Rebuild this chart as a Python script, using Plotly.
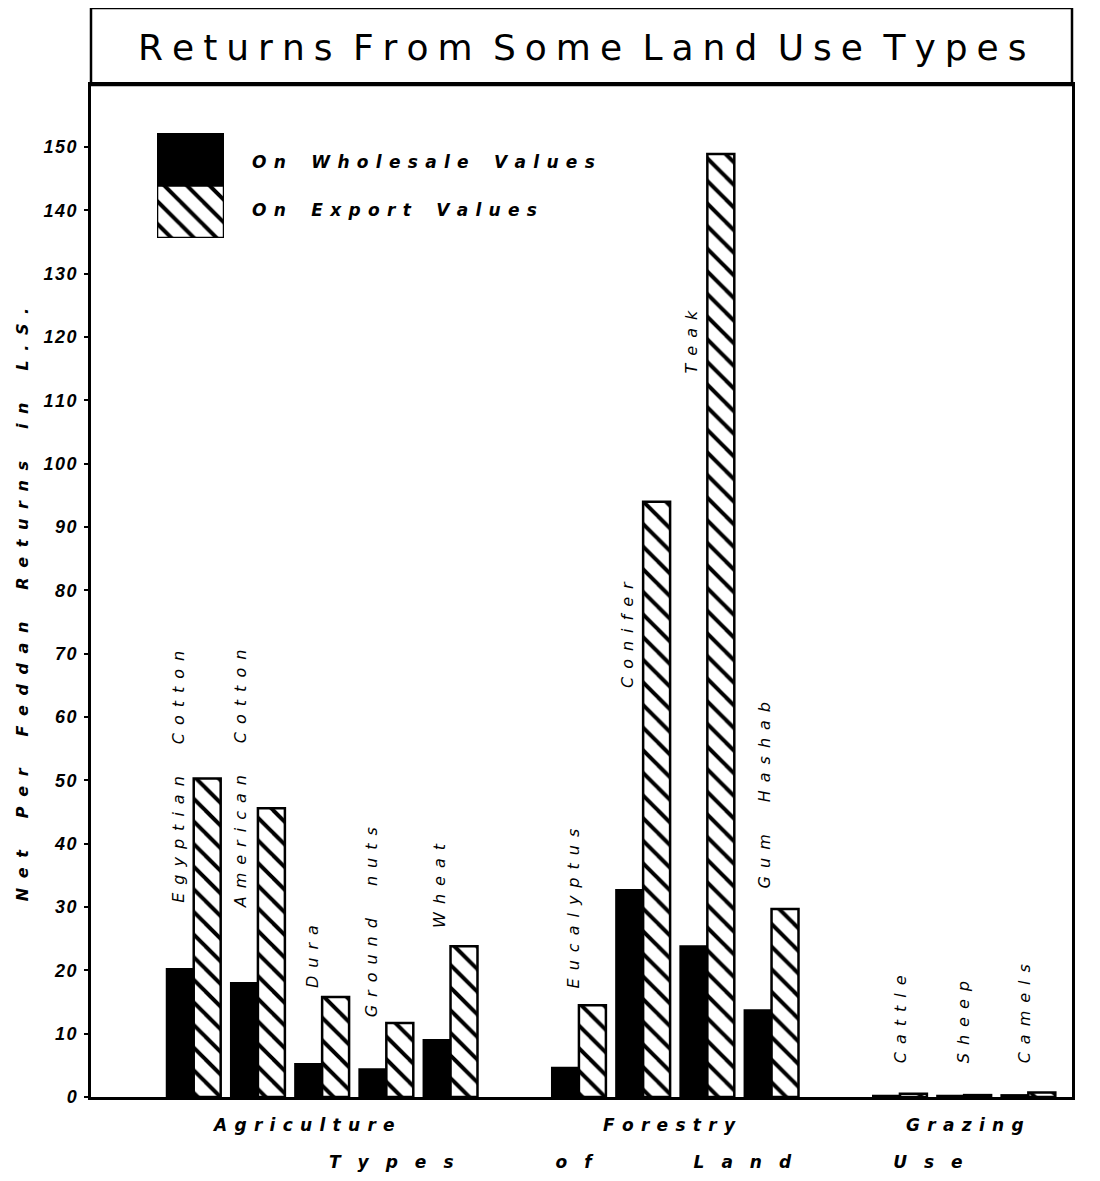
import plotly.graph_objects as go

# ---------------- data ----------------
categories = ["Egyptian Cotton", "American Cotton", "Dura", "Ground nuts", "Wheat",
              "Eucalyptus", "Conifer", "Teak", "Gum Hashab",
              "Cattle", "Sheep", "Camels"]
land_use = ["Agriculture"] * 5 + ["Forestry"] * 4 + ["Grazing"] * 3
land_use_types = ["Agriculture", "Forestry", "Grazing"]
wholesale_values = [20.2, 18.0, 5.2, 4.4, 9.0, 4.6, 32.7, 23.8, 13.7, 0.2, 0.2, 0.3]
export_values = [50.3, 45.6, 15.8, 11.7, 23.8, 14.5, 94.0, 148.9, 29.7, 0.5, 0.3, 0.7]
series_names = ["On Wholesale Values", "On Export Values"]
tick_values = [0, 10, 20, 30, 40, 50, 60, 70, 80, 90, 100, 110, 120, 130, 140, 150]
title_text = "Returns From Some Land Use Types"
y_title_text = "Net Per Feddan Returns in L.S."
x_title_text = "Types of Land Use"

# ---------------- label placement (style) ----------------
label_dx = [-0.25, -0.27, -0.15, -0.23, -0.17, -0.07, -0.24, -0.24, -0.11, 0.0, -0.02, -0.06]
label_base = [30.3, 29.5, 16.9, 12.2, 26.4, 16.9, 64.3, 114.0, 32.7, 5.0, 5.0, 5.0]
group_dx = [-0.29, -0.09, 0.02]

FONT = "DejaVu Sans"
TICKFONT = "Liberation Sans, Arial, DejaVu Sans"
HATCH = dict(shape="\\", fgcolor="black", bgcolor="white", size=16, solidity=0.25,
             fgopacity=1, fillmode="replace")


def spread(s, gap, wgap):
    return wgap.join(gap.join(w) for w in s.split(" "))


# x slot positions: consecutive bars, one empty slot between land-use groups
positions = []
for i, g in enumerate(land_use):
    positions.append(i + 1.5 + land_use_types.index(g))

fig = go.Figure()
fig.add_bar(x=positions, y=wholesale_values, name=series_names[0], showlegend=False,
            marker=dict(color="black", line=dict(color="black", width=2)))
fig.add_bar(x=positions, y=export_values, name=series_names[1], showlegend=False,
            marker=dict(color="white", pattern=HATCH, line=dict(color="black", width=2.5)))

# custom legend key (stacked boxes) on its own small axes
fig.add_bar(x=[0], y=[1], base=[1], width=[1], offset=-0.5, xaxis="x2", yaxis="y2",
            showlegend=False, hoverinfo="skip",
            marker=dict(color="black", line=dict(color="black", width=2)))
fig.add_bar(x=[0], y=[1], base=[0], width=[1], offset=-0.5, xaxis="x2", yaxis="y2",
            showlegend=False, hoverinfo="skip",
            marker=dict(color="white", pattern=HATCH, line=dict(color="black", width=2.5)))

ann = []
# rotated category labels
for c, p, dx, b in zip(categories, positions, label_dx, label_base):
    ann.append(dict(x=p + dx, y=b, xref="x", yref="y", text=spread(c, "\u2002", "\u2003\u2003"),
                    textangle=-90, showarrow=False, xanchor="center", yanchor="bottom",
                    font=dict(family=FONT, size=16, color="black", style="italic")))
# land use group labels
for g, dx in zip(land_use_types, group_dx):
    ps = [p for p, lu in zip(positions, land_use) if lu == g]
    ann.append(dict(x=sum(ps) / len(ps) + dx, y=-0.0277, xref="x", yref="paper",
                    text=spread(g, "\u2004\u200a", "\u2003"), showarrow=False,
                    xanchor="center", yanchor="middle",
                    font=dict(family=FONT, size=17, color="black", style="italic", weight="bold")))
# x title
ann.append(dict(x=0.566, y=-0.0642, xref="paper", yref="paper",
                text=spread(x_title_text, "\u2003", "\u2003" * 6), showarrow=False,
                xanchor="center", yanchor="middle",
                font=dict(family=FONT, size=17, color="black", style="italic", weight="bold")))
# y title
ann.append(dict(x=-0.0703, y=0.486, xref="paper", yref="paper",
                text=spread(y_title_text, "\u2002\u200a", "\u2003\u2003"), textangle=-90, showarrow=False,
                xanchor="center", yanchor="middle",
                font=dict(family=FONT, size=16, color="black", style="italic", weight="bold")))
# legend texts
for name, yy in zip(series_names, [0.924, 0.8765]):
    ann.append(dict(x=0.162, y=yy, xref="paper", yref="paper",
                    text=spread(name, "\u2004\u200a", "\u2003\u2002"), showarrow=False,
                    xanchor="left", yanchor="middle",
                    font=dict(family=FONT, size=17, color="black", style="italic", weight="bold")))
# title
ann.append(dict(x=0.5, y=1.0375, xref="paper", yref="paper",
                text=spread(title_text, "\u2005", " \u2005"), showarrow=False,
                xanchor="center", yanchor="middle",
                font=dict(family=FONT, size=36, color="black")))

fig.update_layout(
    width=1084, height=1165, autosize=False,
    margin=dict(l=83, r=20, t=77, b=76),
    paper_bgcolor="white", plot_bgcolor="white",
    barmode="group", bargap=0.16, bargroupgap=0,
    showlegend=False,
    annotations=ann,
    shapes=[dict(type="rect", xref="paper", yref="paper", x0=0, x1=1, y0=1, y1=1.0761,
                 line=dict(color="black", width=2.5))],
    xaxis=dict(range=[-0.1, 15.18], showticklabels=False, ticks="", showgrid=False,
               zeroline=False, showline=True, mirror=True, linecolor="black", linewidth=2.5),
    yaxis=dict(range=[0, 159.8], tickvals=tick_values,
               ticktext=[spread(str(v), "\u200a", "") for v in tick_values],
               ticks="outside", ticklen=4, tickwidth=2, tickcolor="black",
               ticklabelstandoff=4, showgrid=False, zeroline=False,
               showline=True, mirror=True, linecolor="black", linewidth=2.5,
               tickfont=dict(family=TICKFONT, size=18, color="black", style="italic", weight="bold")),
    xaxis2=dict(domain=[0.0673, 0.1356], range=[-0.5, 0.5], visible=False, anchor="y2"),
    yaxis2=dict(domain=[0.8488, 0.9526], range=[0, 2], visible=False, anchor="x2"),
)

fig.write_html("out.html")
